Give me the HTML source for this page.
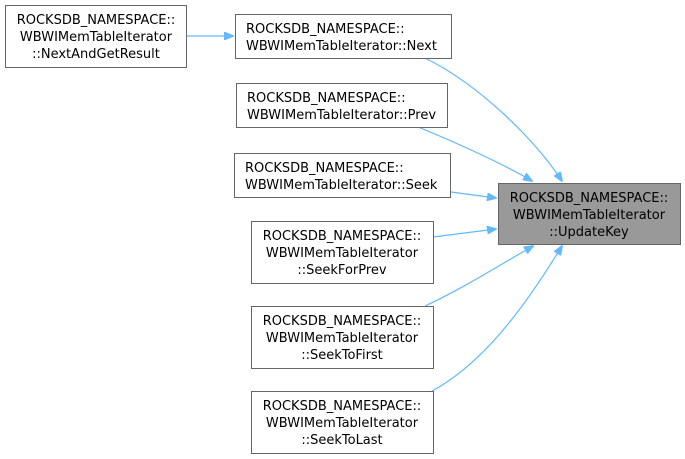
<!DOCTYPE html>
<html><head><meta charset="utf-8"><style>
html,body{margin:0;padding:0;background:#fff;width:685px;height:459px;overflow:hidden}
svg{display:block}
text{font-family:"DejaVu Sans","Liberation Sans",sans-serif;font-size:13px;fill:#000}
</style></head><body>
<svg width="685" height="459" viewBox="0 0 685 459">
<defs><marker id="a" markerWidth="10" markerHeight="8" refX="9" refY="4" orient="auto" markerUnits="userSpaceOnUse"><path d="M0,0 L10,4 L0,8 z" fill="#63b8ff" stroke="#63b8ff"/></marker></defs>
<g fill="none" stroke="#63b8ff" stroke-width="1.2">
<path d="M187,36 L233,36" marker-end="url(#a)"/>
<path d="M425,58 C480,85 535,140 562,181" marker-end="url(#a)"/>
<path d="M418,127 C450,140 500,162 532,181" marker-end="url(#a)"/>
<path d="M451,192 L496,198" marker-end="url(#a)"/>
<path d="M433,237 L496,229" marker-end="url(#a)"/>
<path d="M425,306 C460,290 500,265 533,246" marker-end="url(#a)"/>
<path d="M432,391 C490,360 535,290 562,246" marker-end="url(#a)"/>
</g>
<g stroke="#666" stroke-width="1" fill="#fff">
<rect x="5.5" y="5.5" width="181" height="62"/>
<rect x="235.5" y="14.5" width="216" height="44"/>
<rect x="236.5" y="83.5" width="211" height="44"/>
<rect x="234.5" y="153.5" width="216" height="44"/>
<rect x="251.5" y="221.5" width="182" height="62"/>
<rect x="251.5" y="306.5" width="182" height="62"/>
<rect x="251.5" y="391.5" width="182" height="62"/>
<rect x="498.5" y="183.5" width="182" height="61" fill="#999"/>
</g>
<g text-anchor="middle">
<text x="96" y="24">ROCKSDB_NAMESPACE::</text><text x="96" y="41">WBWIMemTableIterator</text><text x="96" y="58">::NextAndGetResult</text>
<text x="589" y="202">ROCKSDB_NAMESPACE::</text><text x="589" y="219">WBWIMemTableIterator</text><text x="589" y="236">::UpdateKey</text>
<text x="342" y="240">ROCKSDB_NAMESPACE::</text><text x="342" y="257">WBWIMemTableIterator</text><text x="342" y="274">::SeekForPrev</text>
<text x="342" y="325">ROCKSDB_NAMESPACE::</text><text x="342" y="342">WBWIMemTableIterator</text><text x="342" y="359">::SeekToFirst</text>
<text x="342" y="410">ROCKSDB_NAMESPACE::</text><text x="342" y="427">WBWIMemTableIterator</text><text x="342" y="444">::SeekToLast</text>
</g>
<text x="246" y="33">ROCKSDB_NAMESPACE::</text><text x="246" y="50">WBWIMemTableIterator::Next</text>
<text x="247" y="102">ROCKSDB_NAMESPACE::</text><text x="247" y="119">WBWIMemTableIterator::Prev</text>
<text x="245" y="172">ROCKSDB_NAMESPACE::</text><text x="245" y="189">WBWIMemTableIterator::Seek</text>
</svg>
</body></html>
